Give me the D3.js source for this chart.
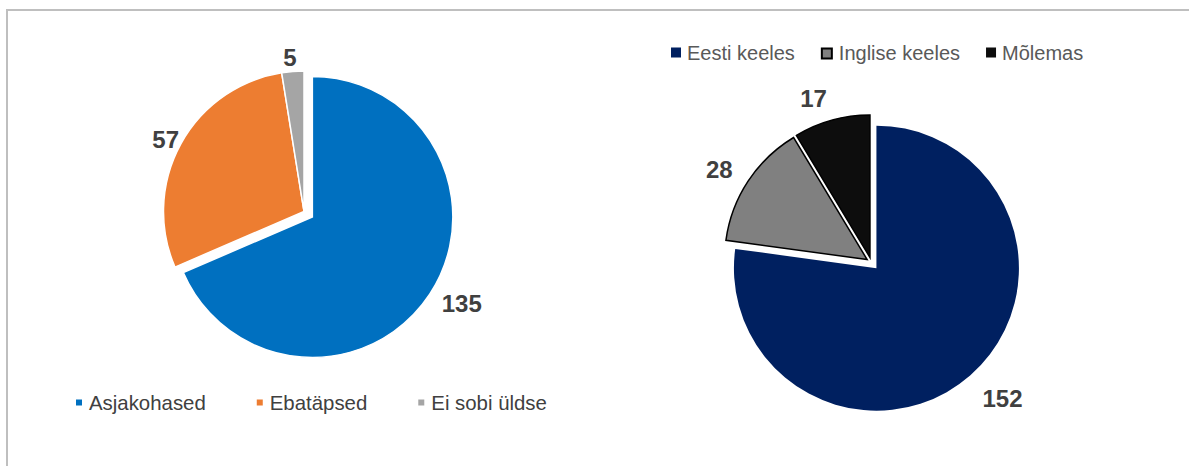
<!DOCTYPE html>
<html>
<head>
<meta charset="utf-8">
<script src="https://cdn.jsdelivr.net/npm/d3@7"></script>
<style>
  body { margin: 0; background: #fff; }
  svg { display: block; font-family: Arial, "Liberation Sans", sans-serif; }
</style>
</head>
<body>
<svg id="chart" width="1189" height="466"></svg>
<script>
// Left pie
const leftCategories = ["Asjakohased", "Ebatäpsed", "Ei sobi üldse"];
const leftValues = [135, 57, 5];
const leftColors = ["#0070C0", "#ED7D31", "#A5A5A5"];

// Right pie
const rightCategories = ["Eesti keeles", "Inglise keeles", "Mõlemas"];
const rightValues = [152, 28, 17];
const rightColors = ["#002060", "#808080", "#0D0D0D"];

// layout / style for each pie
const leftLayout = {
  cx: 304, cy: 211.5, r: 140.5,
  explode: [10, 0, 0],
  stroke: "#fff", strokeWidth: [1.5, 1.5, 1.5],
  labelPad: 4,
  nudge: [[12, 1], [0, 2], [-2, 0]],
  legend: { x: 76, y: 410, box: 6, textGap: 7, itemGap: 51, fontSize: 20.4, color: "#404040", outline: [false, false, false] }
};
const rightLayout = {
  cx: 871.3, cy: 262.3, r: 142.5,
  explode: [7.8, 5, 5],
  stroke: "#000", strokeWidth: [0, 1.5, 1.5],
  labelPad: 14,
  nudge: [[10, 4.5], [-6, 1], [-11, 1.5]],
  legend: { x: 671, y: 60, box: 10, textGap: 6, itemGap: 26, fontSize: 20, color: "#595959", outline: [false, true, false] }
};

const svg = d3.select("#chart");

// frame (only top and left edges are visible)
svg.append("rect")
  .attr("x", 7).attr("y", 10)
  .attr("width", 1300).attr("height", 600)
  .attr("fill", "none")
  .attr("stroke", "#bfbfbf")
  .attr("stroke-width", 2);

function drawPie(values, colors, categories, L) {
  const pie = d3.pie().sort(null).value(d => d)(values);
  const arc = d3.arc().innerRadius(0).outerRadius(L.r);
  const g = svg.append("g").attr("transform", `translate(${L.cx},${L.cy})`);

  const dirOf = d => {
    const a = (d.startAngle + d.endAngle) / 2;
    return [Math.sin(a), -Math.cos(a)];
  };

  g.selectAll("path.slice")
    .data(pie)
    .enter()
    .append("path")
    .attr("class", "slice")
    .attr("transform", (d, i) => {
      const [dx, dy] = dirOf(d);
      return `translate(${dx * L.explode[i]},${dy * L.explode[i]})`;
    })
    .attr("d", arc)
    .attr("fill", (d, i) => colors[i])
    .attr("stroke", L.stroke)
    .attr("stroke-width", (d, i) => L.strokeWidth[i])
    .attr("stroke-linejoin", "miter");

  // data labels, outside end
  const capH = 24 * 0.716;
  g.selectAll("text.lbl")
    .data(pie)
    .enter()
    .append("text")
    .attr("class", "lbl")
    .attr("text-anchor", "middle")
    .attr("font-size", 24)
    .attr("font-weight", "bold")
    .attr("fill", "#404040")
    .text(d => d.value)
    .each(function(d, i) {
      const [dx, dy] = dirOf(d);
      const w = this.getComputedTextLength();
      const rr = L.r + L.labelPad + L.explode[i];
      const x = dx * rr + dx * w / 2 + L.nudge[i][0];
      const y = dy * rr + dy * 10 + L.nudge[i][1];
      d3.select(this).attr("x", x).attr("y", y + capH / 2);
    });

  // legend
  const lg = svg.append("g");
  let x = L.legend.x;
  categories.forEach((c, i) => {
    const b = L.legend.box;
    if (L.legend.outline[i]) {
      lg.append("rect")
        .attr("x", x + 1).attr("y", L.legend.y - 7.5 - b / 2 + 1)
        .attr("width", b).attr("height", b)
        .attr("fill", colors[i])
        .attr("stroke", "#000")
        .attr("stroke-width", 2);
    } else {
      lg.append("rect")
        .attr("x", x).attr("y", L.legend.y - 7.5 - b / 2)
        .attr("width", b).attr("height", b)
        .attr("fill", colors[i]);
    }
    const extra = L.legend.outline[i] ? 2 : 0;
    const t = lg.append("text")
      .attr("x", x + b + extra + L.legend.textGap)
      .attr("y", L.legend.y)
      .attr("font-size", L.legend.fontSize)
      .attr("fill", L.legend.color)
      .text(c);
    x = x + b + extra + L.legend.textGap + t.node().getComputedTextLength() + L.legend.itemGap;
  });
}

drawPie(leftValues, leftColors, leftCategories, leftLayout);
drawPie(rightValues, rightColors, rightCategories, rightLayout);
</script>
</body>
</html>
